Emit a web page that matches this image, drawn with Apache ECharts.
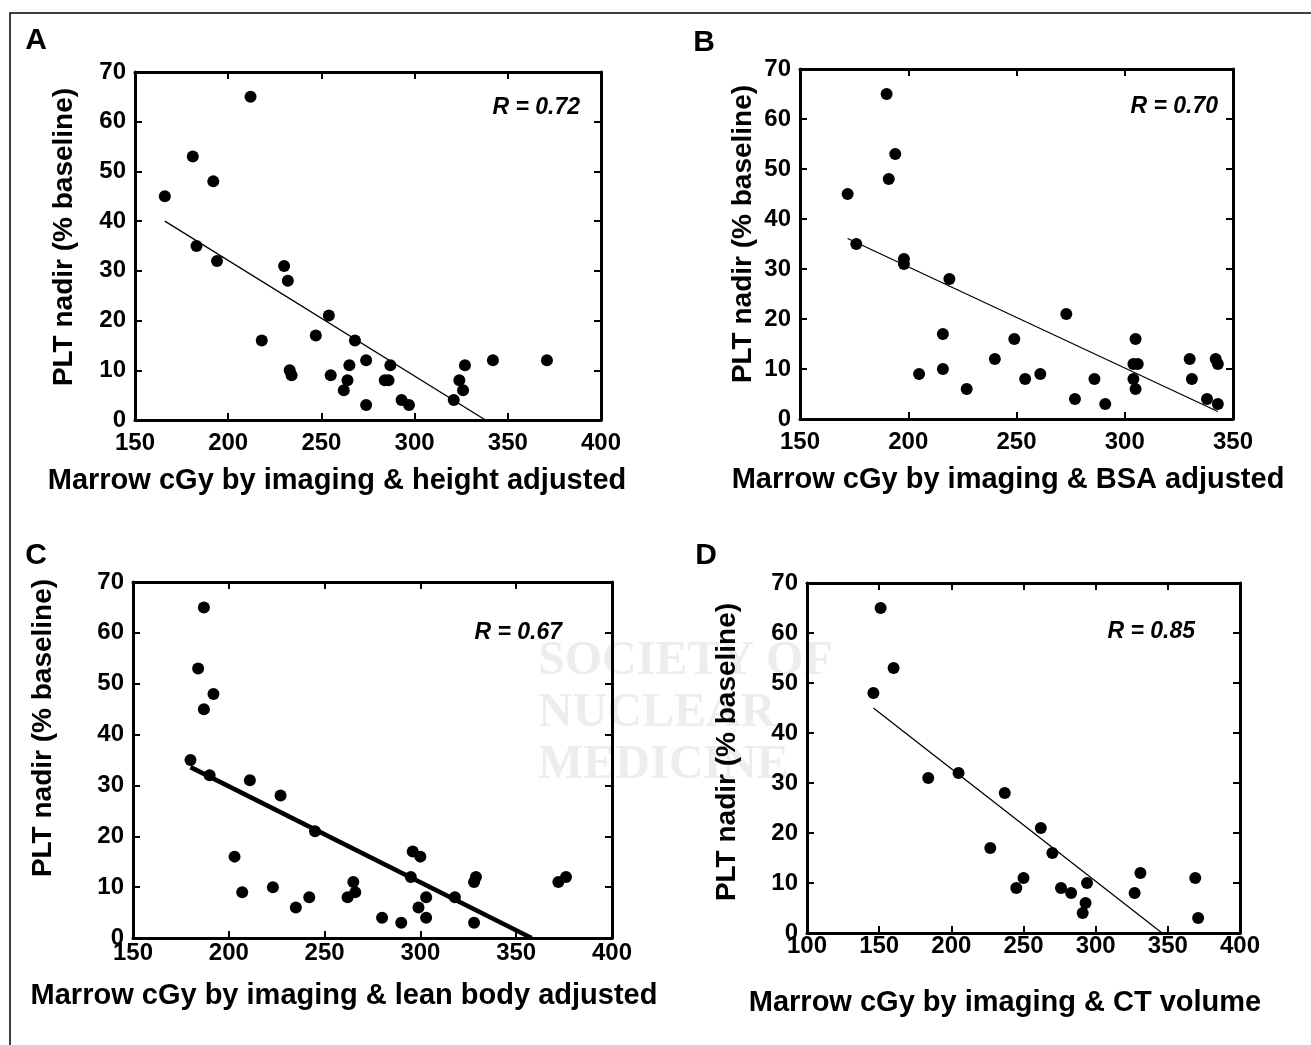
<!DOCTYPE html>
<html>
<head>
<meta charset="utf-8">
<title>PLT nadir vs marrow dose</title>
<script src="https://cdn.jsdelivr.net/npm/echarts@6/dist/echarts.min.js"></script>
<style>
  html, body { margin: 0; padding: 0; background: #fff; }
  #chart { width: 1311px; height: 1045px; }
</style>
</head>
<body>
<div id="chart"></div>
<script>
// Panel A: height adjusted
const doseA = [166, 181, 192, 212, 183, 194, 218, 230, 232, 233, 234, 247, 254, 255, 262, 264, 265, 268, 274, 274, 284, 286, 287, 293, 297, 321, 324, 326, 327, 342, 371];
const pltA  = [45, 53, 48, 65, 35, 32, 16, 31, 28, 10, 9, 17, 21, 9, 6, 8, 11, 16, 12, 3, 8, 8, 11, 4, 3, 4, 8, 6, 11, 12, 12];
const fitA  = [[166, 40], [338, 0]];

// Panel B: BSA adjusted
const doseB = [172, 176, 190, 191, 194, 198, 198, 219, 205, 216, 216, 227, 240, 249, 254, 261, 273, 277, 286, 291, 304, 304, 306, 305, 305, 330, 331, 338, 342, 343, 343];
const pltB  = [45, 35, 65, 48, 53, 32, 31, 28, 9, 17, 10, 6, 12, 16, 8, 9, 21, 4, 8, 3, 8, 11, 11, 16, 6, 12, 8, 4, 12, 11, 3];
const fitB  = [[172, 36.1], [343, 1.5]];

// Panel C: lean body adjusted
const doseC = [180, 184, 187, 187, 192, 190, 211, 203, 207, 227, 223, 235, 242, 245, 262, 265, 266, 280, 290, 295, 296, 300, 299, 303, 303, 318, 328, 329, 328, 372, 376];
const pltC  = [35, 53, 65, 45, 48, 32, 31, 16, 9, 28, 10, 6, 8, 21, 8, 11, 9, 4, 3, 12, 17, 16, 6, 8, 4, 8, 11, 12, 3, 11, 12];
const fitC  = [[180, 33.6], [358, 0]];

// Panel D: CT volume
const doseD = [151, 160, 146, 184, 205, 237, 227, 262, 270, 245, 250, 276, 283, 294, 293, 291, 327, 331, 369, 371];
const pltD  = [65, 53, 48, 31, 32, 28, 17, 21, 16, 9, 11, 9, 8, 10, 6, 4, 8, 12, 11, 3];
const fitD  = [[146, 45], [346, 0]];

const panelLetters = ['A', 'B', 'C', 'D'];
const rLabels = ['R = 0.72', 'R = 0.70', 'R = 0.67', 'R = 0.85'];
const xTitles = [
  'Marrow cGy by imaging & height adjusted',
  'Marrow cGy by imaging & BSA adjusted',
  'Marrow cGy by imaging & lean body adjusted',
  'Marrow cGy by imaging & CT volume'
];
const yTitle = 'PLT nadir (% baseline)';
const xRanges = [[150, 400], [150, 350], [150, 400], [100, 400]];
const yRange = [0, 70];

const FONT = '"Liberation Sans", Arial, Helvetica, sans-serif';

const panels = [
  { dose: doseA, plt: pltA, fit: fitA, fitWidth: 1.3,
    grid: { left: 135, top: 72, width: 466, height: 348 }, xMargin: 11,
    letter: [36, 41], r: [580, 108], xt: [337, 481], yt: [64, 237] },
  { dose: doseB, plt: pltB, fit: fitB, fitWidth: 1.3,
    grid: { left: 800, top: 69, width: 433, height: 350 }, xMargin: 11,
    letter: [704, 43], r: [1218, 107], xt: [1008, 480], yt: [743, 234] },
  { dose: doseC, plt: pltC, fit: fitC, fitWidth: 4.5,
    grid: { left: 133, top: 582, width: 479, height: 356 }, xMargin: 3,
    letter: [36, 556], r: [562, 633], xt: [344, 996], yt: [43, 728] },
  { dose: doseD, plt: pltD, fit: fitD, fitWidth: 1.3,
    grid: { left: 807, top: 583, width: 433, height: 350 }, xMargin: 1,
    letter: [706, 556], r: [1195, 632], xt: [1005, 1003], yt: [727, 752] }
];

const chart = echarts.init(document.getElementById('chart'), null, { renderer: 'canvas' });

const grids = [], xAxes = [], yAxes = [], series = [];
const tickStyle = { show: true, inside: true, length: 7, lineStyle: { color: '#000', width: 2 } };
const lineStyle = { show: true, onZero: false, lineStyle: { color: '#000', width: 3 } };
const labelStyle = { color: '#000', fontFamily: FONT, fontWeight: 'bold', fontSize: 24 };

panels.forEach((p, i) => {
  grids.push(Object.assign({ containLabel: false }, p.grid));
  const xr = xRanges[i];
  ['bottom', 'top'].forEach((pos, k) => {
    xAxes.push({
      type: 'value', gridIndex: i, position: pos,
      min: xr[0], max: xr[1], interval: 50,
      axisLine: lineStyle, axisTick: tickStyle, splitLine: { show: false },
      axisLabel: Object.assign({ show: k === 0, margin: p.xMargin }, labelStyle)
    });
  });
  ['left', 'right'].forEach((pos, k) => {
    yAxes.push({
      type: 'value', gridIndex: i, position: pos,
      min: yRange[0], max: yRange[1], interval: 10,
      axisLine: lineStyle, axisTick: tickStyle, splitLine: { show: false },
      axisLabel: Object.assign({ show: k === 0, margin: 9 }, labelStyle)
    });
  });
  series.push({
    type: 'scatter', xAxisIndex: i * 2, yAxisIndex: i * 2,
    data: p.dose.map((d, j) => [d, p.plt[j]]),
    symbol: 'circle', symbolSize: 12,
    itemStyle: { color: '#000', opacity: 1 }, z: 3
  });
  series.push({
    type: 'line', xAxisIndex: i * 2, yAxisIndex: i * 2,
    data: p.fit, symbol: 'none',
    lineStyle: { color: '#000', width: p.fitWidth }, z: 2
  });
});

function text(x, y, str, style, extra) {
  return Object.assign({
    type: 'text', x: x, y: y,
    style: Object.assign({
      text: str, fill: '#000', fontFamily: FONT, fontWeight: 'bold',
      align: 'center', textAlign: 'center',
      verticalAlign: 'middle', textVerticalAlign: 'middle'
    }, style)
  }, extra || {});
}

const graphics = [
  { type: 'rect', shape: { x: 10, y: 13, width: 1400, height: 1100 },
    style: { fill: 'none', stroke: '#000', lineWidth: 1.5 }, z: -5 },
  text(538, 636, 'SOCIETY OF\nNUCLEAR\nMEDICINE', {
    fill: '#ededed', fontFamily: '"Liberation Serif", "DejaVu Serif", serif',
    fontSize: 48, lineHeight: 52, align: 'left', textAlign: 'left',
    verticalAlign: 'top', textVerticalAlign: 'top'
  }, { z: -10 })
];

panels.forEach((p, i) => {
  graphics.push(text(p.letter[0], p.letter[1], panelLetters[i], { fontSize: 30 }));
  graphics.push(text(p.r[0], p.r[1], rLabels[i], {
    fontSize: 23, fontStyle: 'italic', align: 'right', textAlign: 'right'
  }));
  graphics.push(text(p.xt[0], p.xt[1], xTitles[i], { fontSize: 29 }));
  graphics.push(text(p.yt[0], p.yt[1], yTitle, { fontSize: 28 }, { rotation: Math.PI / 2 }));
});

chart.setOption({
  backgroundColor: '#fff',
  animation: false,
  grid: grids,
  xAxis: xAxes,
  yAxis: yAxes,
  series: series,
  graphic: { elements: graphics }
});
</script>
</body>
</html>
